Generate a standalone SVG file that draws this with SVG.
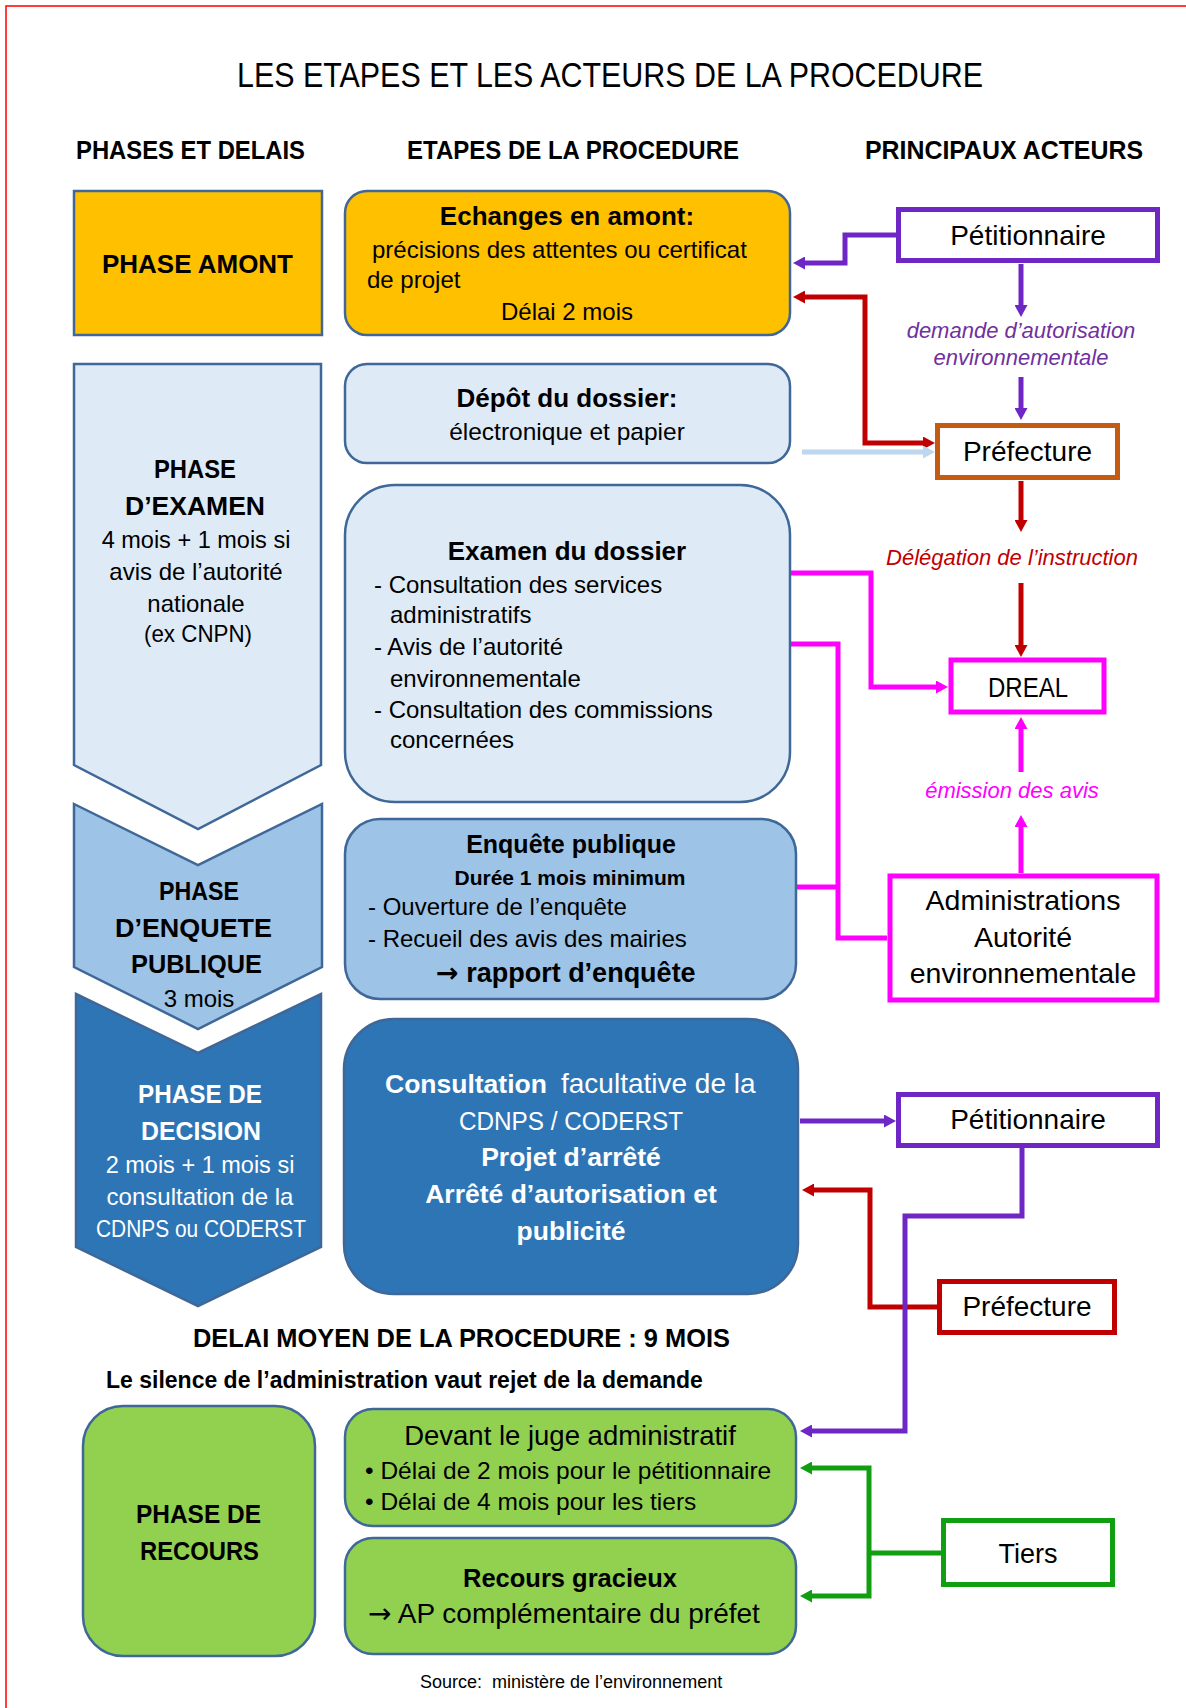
<svg xmlns="http://www.w3.org/2000/svg" width="1186" height="1708" viewBox="0 0 1186 1708">
<style>
text{font-family:"Liberation Sans",Arial,sans-serif;fill:#000}
.b{font-weight:bold}
.i{font-style:italic}
.m{text-anchor:middle}
.w{fill:#fff}
.arr{font-family:"DejaVu Sans",sans-serif}
.box{stroke:#3F6797;stroke-width:2.5}
.actor{fill:#fff;stroke-width:5}
.c{fill:none;stroke-width:5;stroke-linejoin:miter}
</style>
<defs>
<marker id="aP" markerUnits="userSpaceOnUse" markerWidth="13" markerHeight="13" refX="2" refY="6.5" orient="auto-start-reverse"><path d="M0,0 L12,6.5 L0,13 z" fill="#6E26C4"/></marker>
<marker id="aR" markerUnits="userSpaceOnUse" markerWidth="13" markerHeight="13" refX="2" refY="6.5" orient="auto-start-reverse"><path d="M0,0 L12,6.5 L0,13 z" fill="#C00000"/></marker>
<marker id="aM" markerUnits="userSpaceOnUse" markerWidth="13" markerHeight="13" refX="2" refY="6.5" orient="auto-start-reverse"><path d="M0,0 L12,6.5 L0,13 z" fill="#FF00FF"/></marker>
<marker id="aG" markerUnits="userSpaceOnUse" markerWidth="13" markerHeight="13" refX="2" refY="6.5" orient="auto-start-reverse"><path d="M0,0 L12,6.5 L0,13 z" fill="#119E11"/></marker>
<marker id="aL" markerUnits="userSpaceOnUse" markerWidth="13" markerHeight="13" refX="2" refY="6.5" orient="auto-start-reverse"><path d="M0,0 L12,6.5 L0,13 z" fill="#BDD7EE"/></marker>
</defs>
<rect width="1186" height="1708" fill="#fff"/>
<path d="M6,1708 V6 H1186" fill="none" stroke="#FF0000" stroke-width="1.5"/>

<text x="237" y="87" font-size="35" textLength="746" lengthAdjust="spacingAndGlyphs">LES ETAPES ET LES ACTEURS DE LA PROCEDURE</text>
<text class="b" x="76" y="159" font-size="25" textLength="229" lengthAdjust="spacingAndGlyphs">PHASES ET DELAIS</text>
<text class="b" x="407" y="159" font-size="25" textLength="332" lengthAdjust="spacingAndGlyphs">ETAPES DE LA PROCEDURE</text>
<text class="b" x="865" y="159" font-size="25" textLength="278" lengthAdjust="spacingAndGlyphs">PRINCIPAUX ACTEURS</text>

<!-- Left column phases -->
<g id="phase-amont">
<rect class="box" x="74" y="191" width="248" height="144" fill="#FFC000"/>
<text class="b" x="102" y="273" font-size="25" textLength="191" lengthAdjust="spacingAndGlyphs">PHASE AMONT</text>
</g>
<g id="phase-examen">
<path class="box" d="M74,364 H321 V765 L198,829 L74,765 Z" fill="#DEEBF7"/>
<text class="b" x="154" y="478" font-size="25.5" textLength="82" lengthAdjust="spacingAndGlyphs">PHASE</text>
<text class="b" x="125" y="515" font-size="25.5" textLength="140" lengthAdjust="spacingAndGlyphs">D’EXAMEN</text>
<text class="m" x="196" y="548" font-size="23.5">4 mois + 1 mois si</text>
<text class="m" x="196" y="580" font-size="24">avis de l’autorité</text>
<text class="m" x="196" y="612" font-size="24">nationale</text>
<text x="144" y="642" font-size="24" textLength="108" lengthAdjust="spacingAndGlyphs">(ex CNPN)</text>
</g>
<g id="phase-enquete">
<path class="box" d="M74,804 L198,865 L322,804 V967 L198,1029 L74,967 Z" fill="#9DC3E6"/>
<text class="b" x="159" y="900" font-size="25.5" textLength="80" lengthAdjust="spacingAndGlyphs">PHASE</text>
<text class="b" x="115" y="937" font-size="25.5" textLength="157" lengthAdjust="spacingAndGlyphs">D’ENQUETE</text>
<text class="b" x="131" y="973" font-size="25.5" textLength="131" lengthAdjust="spacingAndGlyphs">PUBLIQUE</text>
<text class="m" x="199" y="1007" font-size="24">3 mois</text>
</g>
<g id="phase-decision">
<path class="box" d="M76,994 L198,1053 L321,994 V1247 L198,1306 L76,1247 Z" fill="#2E75B6"/>
<text class="b w" x="138" y="1103" font-size="25.5" textLength="124" lengthAdjust="spacingAndGlyphs">PHASE DE</text>
<text class="b w" x="141" y="1140" font-size="25.5" textLength="120" lengthAdjust="spacingAndGlyphs">DECISION</text>
<text class="m w" x="200" y="1173" font-size="23.5">2 mois + 1 mois si</text>
<text class="m w" x="200" y="1205" font-size="24">consultation de la</text>
<text class="w" x="96" y="1237" font-size="24" textLength="210" lengthAdjust="spacingAndGlyphs">CDNPS ou CODERST</text>
</g>
<g id="phase-recours">
<rect class="box" x="83" y="1406" width="232" height="250" rx="40" fill="#92D050"/>
<text class="b" x="136" y="1523" font-size="25.5" textLength="125" lengthAdjust="spacingAndGlyphs">PHASE DE</text>
<text class="b" x="140" y="1560" font-size="25.5" textLength="119" lengthAdjust="spacingAndGlyphs">RECOURS</text>
</g>

<!-- Middle column steps -->
<g id="echanges">
<rect class="box" x="345" y="191" width="445" height="144" rx="22" fill="#FFC000"/>
<text class="b m" x="567" y="225" font-size="26">Echanges en amont:</text>
<text x="372" y="258" font-size="24">précisions des attentes ou certificat</text>
<text x="367" y="288" font-size="24">de projet</text>
<text class="m" x="567" y="320" font-size="24">Délai 2 mois</text>
</g>
<g id="depot">
<rect class="box" x="345" y="364" width="445" height="99" rx="22" fill="#DEEBF7"/>
<text class="b m" x="567" y="407" font-size="26">Dépôt du dossier:</text>
<text class="m" x="567" y="440" font-size="24.5">électronique et papier</text>
</g>
<g id="examen">
<rect class="box" x="345" y="485" width="445" height="317" rx="50" fill="#DEEBF7"/>
<text class="b m" x="567" y="560" font-size="26">Examen du dossier</text>
<text x="374" y="593" font-size="24">- Consultation des services</text>
<text x="390" y="623" font-size="24">administratifs</text>
<text x="374" y="655" font-size="24">- Avis de l’autorité</text>
<text x="390" y="687" font-size="24">environnementale</text>
<text x="374" y="718" font-size="24">- Consultation des commissions</text>
<text x="390" y="748" font-size="24">concernées</text>
</g>
<g id="enquete">
<rect class="box" x="345" y="819" width="451" height="180" rx="35" fill="#9DC3E6"/>
<text class="b m" x="571" y="853" font-size="25">Enquête publique</text>
<text class="b m" x="570" y="885" font-size="21">Durée 1 mois minimum</text>
<text x="368" y="915" font-size="24">- Ouverture de l’enquête</text>
<text x="368" y="947" font-size="24">- Recueil des avis des mairies</text>
<text class="b" x="436" y="982" font-size="27"><tspan class="arr">→</tspan> rapport d’enquête</text>
</g>
<g id="decision">
<rect class="box" x="344" y="1019" width="454" height="275" rx="50" fill="#2E75B6"/>
<text class="b w" x="385" y="1093" font-size="26.5">Consultation</text>
<text class="w" x="561" y="1093" font-size="28">facultative de la</text>
<text class="w" x="459" y="1130" font-size="25" textLength="224" lengthAdjust="spacingAndGlyphs">CDNPS / CODERST</text>
<text class="b m w" x="571" y="1166" font-size="26.5">Projet d’arrêté</text>
<text class="b m w" x="571" y="1203" font-size="26.5">Arrêté d’autorisation et</text>
<text class="b m w" x="571" y="1240" font-size="26.5">publicité</text>
</g>
<g id="devant-juge">
<rect class="box" x="345" y="1409" width="451" height="117" rx="28" fill="#92D050"/>
<text class="m" x="570" y="1445" font-size="27.5">Devant le juge administratif</text>
<text x="365" y="1479" font-size="24.5">• Délai de 2 mois pour le pétitionnaire</text>
<text x="365" y="1510" font-size="24.5">• Délai de 4 mois pour les tiers</text>
</g>
<g id="recours-gracieux">
<rect class="box" x="345" y="1538" width="451" height="116" rx="28" fill="#92D050"/>
<text class="b m" x="570" y="1587" font-size="25.5">Recours gracieux</text>
<text x="368" y="1623" font-size="28"><tspan class="arr">→</tspan> AP complémentaire du préfet</text>
</g>

<text class="b" x="193" y="1347" font-size="26" textLength="537" lengthAdjust="spacingAndGlyphs">DELAI MOYEN DE LA PROCEDURE : 9 MOIS</text>
<text class="b" x="106" y="1388" font-size="23">Le silence de l’administration vaut rejet de la demande</text>
<text x="420" y="1688" font-size="18" xml:space="preserve">Source:  ministère de l’environnement</text>

<!-- Connectors -->
<g id="connectors">
<path class="c" stroke="#6E26C4" d="M896,235 H845 V263 H803" marker-end="url(#aP)"/>
<path class="c" stroke="#C00000" d="M803,297 H865 V443 H925" marker-start="url(#aR)" marker-end="url(#aR)"/>
<path class="c" stroke="#6E26C4" d="M1021,264 V307" marker-end="url(#aP)"/>
<path class="c" stroke="#6E26C4" d="M1021,377 V410" marker-end="url(#aP)"/>
<path class="c" stroke="#BDD7EE" d="M802,452 H925" marker-end="url(#aL)"/>
<path class="c" stroke="#C00000" d="M1021,481 V522" marker-end="url(#aR)"/>
<path class="c" stroke="#C00000" d="M1021,583 V647" marker-end="url(#aR)"/>
<path class="c" stroke="#FF00FF" stroke-width="6" d="M791,573 H871 V687 H938" marker-end="url(#aM)"/>
<path class="c" stroke="#FF00FF" stroke-width="6" d="M791,644 H838 V938 H887"/>
<path class="c" stroke="#FF00FF" stroke-width="6" d="M797,887 H838"/>
<path class="c" stroke="#FF00FF" d="M1021,873 V825" marker-end="url(#aM)"/>
<path class="c" stroke="#FF00FF" d="M1021,772 V727" marker-end="url(#aM)"/>
<path class="c" stroke="#6E26C4" d="M800,1121 H886" marker-end="url(#aP)"/>
<path class="c" stroke="#C00000" d="M937,1307 H870 V1190 H812" marker-end="url(#aR)"/>
<path class="c" stroke="#6E26C4" d="M1022,1148 V1216 H905 V1431 H810" marker-end="url(#aP)"/>
<path class="c" stroke="#119E11" d="M942,1553 H869"/>
<path class="c" stroke="#119E11" d="M810,1468 H869 V1596 H810" marker-start="url(#aG)" marker-end="url(#aG)"/>
</g>

<!-- Right column actors -->
<g id="petitionnaire-1">
<rect class="actor" stroke="#6E26C4" x="898.5" y="209.5" width="259" height="51"/>
<text class="m" x="1028" y="245" font-size="28">Pétitionnaire</text>
</g>
<text class="i m" x="1021" y="338" font-size="22" style="fill:#7030A0">demande d’autorisation</text>
<text class="i m" x="1021" y="365" font-size="22" style="fill:#7030A0">environnementale</text>
<g id="prefecture-1">
<rect class="actor" stroke="#C55A11" x="937.5" y="425.5" width="180" height="52"/>
<text class="m" x="1027.5" y="461" font-size="28">Préfecture</text>
</g>
<text class="i m" x="1012" y="565" font-size="22" style="fill:#C00000">Délégation de l’instruction</text>
<g id="dreal">
<rect class="actor" stroke="#FF00FF" stroke-width="6" x="951" y="660" width="153" height="52"/>
<text x="988" y="697" font-size="28" textLength="80" lengthAdjust="spacingAndGlyphs">DREAL</text>
</g>
<text class="i m" x="1012" y="798" font-size="22" style="fill:#FF00FF">émission des avis</text>
<g id="administrations">
<rect class="actor" stroke="#FF00FF" stroke-width="6" x="890" y="876" width="267" height="124"/>
<text class="m" x="1023" y="910" font-size="28.5">Administrations</text>
<text class="m" x="1023" y="947" font-size="28.5">Autorité</text>
<text class="m" x="1023" y="983" font-size="28.5">environnementale</text>
</g>
<g id="petitionnaire-2">
<rect class="actor" stroke="#6E26C4" x="898.5" y="1094.5" width="259" height="51"/>
<text class="m" x="1028" y="1129" font-size="28">Pétitionnaire</text>
</g>
<g id="prefecture-2">
<rect class="actor" stroke="#C00000" x="939.5" y="1281.5" width="175" height="51"/>
<text class="m" x="1027" y="1316" font-size="28">Préfecture</text>
</g>
<g id="tiers">
<rect class="actor" stroke="#119E11" x="943.5" y="1520.5" width="169" height="64"/>
<text class="m" x="1028" y="1563" font-size="27">Tiers</text>
</g>
</svg>
